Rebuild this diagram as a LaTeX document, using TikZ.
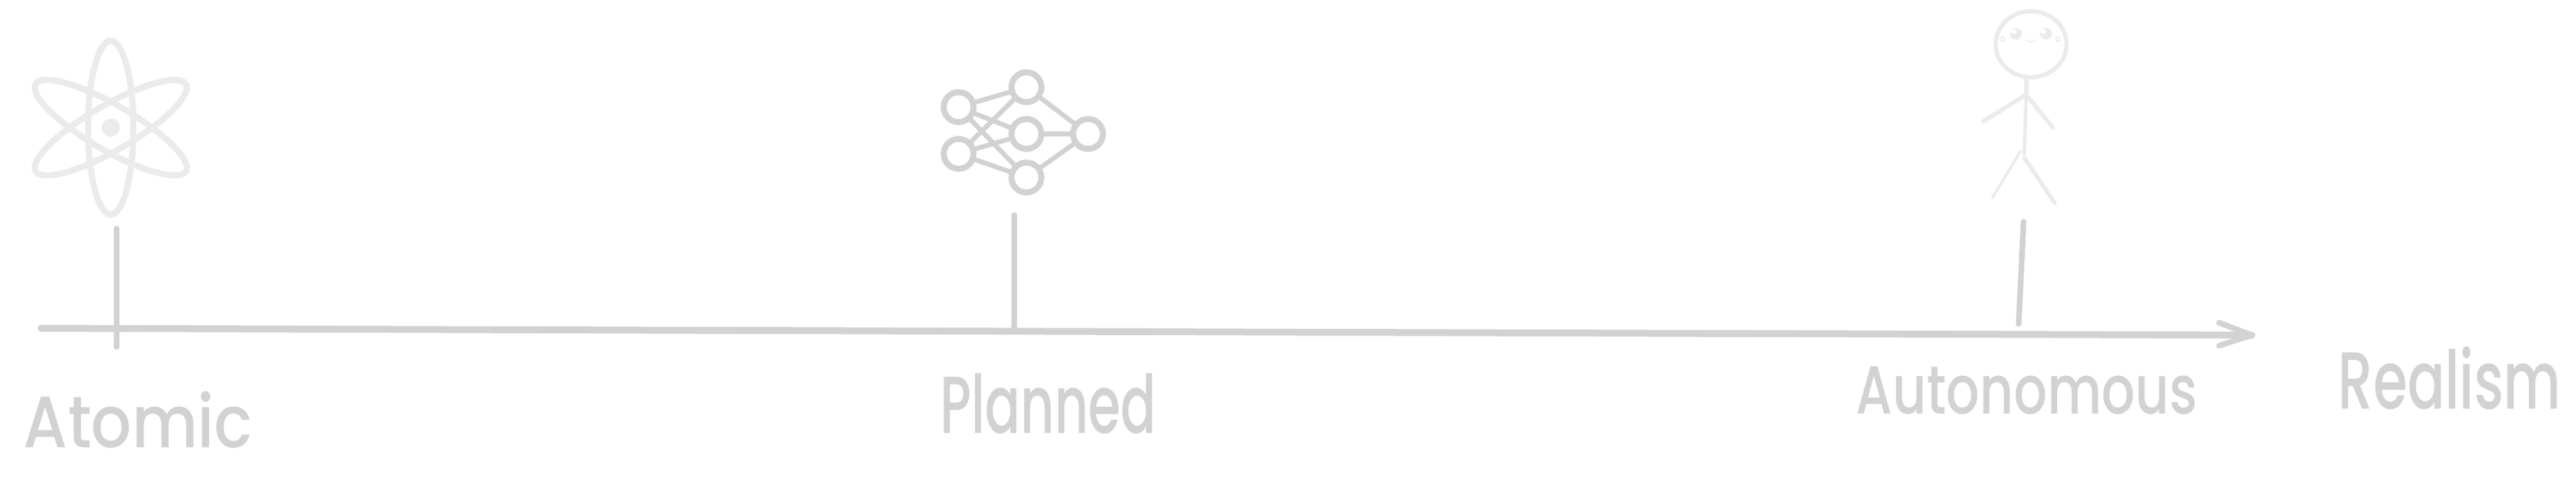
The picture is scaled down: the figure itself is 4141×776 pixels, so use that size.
\documentclass[tikz,border=0pt]{standalone}
\usepackage{fontspec}
\usepackage{graphicx}
\setmainfont{Poppins Medium}
\definecolor{ink}{HTML}{D2D2D2}
\definecolor{faint}{HTML}{EBEBEB}
\tikzset{
  axisline/.style={draw=ink,line width=5.5pt,line cap=round,line join=round},
  tickline/.style={draw=ink,line width=4.5pt,line cap=round},
  netnode/.style={circle,draw=ink,line width=4.8pt,minimum size=24pt,inner sep=0pt,outer sep=0pt},
  netedge/.style={draw=ink,line width=3.8pt},
  atomline/.style={draw=faint,line width=5pt},
  figline/.style={draw=faint,line width=3.4pt,line cap=round},
  lab/.style={text=ink,inner sep=0pt,outer sep=0pt,anchor=center}
}
\begin{document}
\begin{tikzpicture}[x=0.5pt,y=-0.5pt]
\useasboundingbox (0,0) rectangle (4141,776);
% axis
\coordinate (axL) at (66,527);
\coordinate (axR) at (3620,538);
\coordinate (bU) at (3567,518);
\coordinate (bD) at (3567,555);
\draw[axisline] (axL) -- (axR);
\draw[draw=ink,line width=4.5pt,line cap=round,line join=round] (bU) -- (axR) -- (bD);
% ticks
\coordinate (t1a) at (187,367); \coordinate (t1b) at (187,557);
\coordinate (t2a) at (1630,345); \coordinate (t2b) at (1630,530);
\coordinate (t3a) at (3253,356); \coordinate (t3b) at (3245,520);
\draw[tickline] (t1a) -- (t1b);
\draw[tickline] (t2a) -- (t2b);
\draw[tickline] (t3a) -- (t3b);
% atom
\foreach \a in {90,30,-30}
  \draw[atomline,rotate around={\a:(178,205)}] (178,205) ellipse (139.5 and 36.5);
\fill[faint] (178,205) circle (14.5);
% network
\node[netnode] (n1) at (1541,172) {};
\node[netnode] (n2) at (1541,247) {};
\node[netnode] (m1) at (1650,140) {};
\node[netnode] (m2) at (1650,215) {};
\node[netnode] (m3) at (1650,285) {};
\node[netnode] (o)  at (1749,215) {};
\foreach \s in {n1,n2} \foreach \d in {m1,m2,m3} \draw[netedge] (\s) -- (\d);
\foreach \s in {m1,m2,m3} \draw[netedge] (\s) -- (o);
% figure
\draw[figline] (3265,71) ellipse (57 and 53);
\fill[faint] (3240.5,54) circle (9.5);
\fill[faint] (3289,54) circle (9.5);
\fill[white] (3233,47) rectangle (3241,54);
\fill[white] (3281,47) rectangle (3289,54);
\draw[draw=faint,line width=1pt] (3219,63) circle (3.5);
\draw[draw=faint,line width=1pt] (3308,63) circle (3.5);
\draw[draw=faint,line width=.7pt] (3256,63) .. controls (3261,69) and (3269,69) .. (3274,63);
\coordinate (neck) at (3258,126);
\coordinate (chest) at (3257,152);
\coordinate (hip) at (3254,249);
\draw[draw=faint,line width=3.6pt] (neck) -- (chest);
\draw[draw=faint,line width=2.8pt] (chest) -- (hip);
\coordinate (handL) at (3188,195);
\coordinate (handR) at (3300,205);
\coordinate (legLa) at (3248,243);
\coordinate (legLb) at (3203,317);
\coordinate (legRa) at (3254,253);
\coordinate (legRb) at (3303,326);
\draw[figline] (chest) -- (handL);
\draw[figline] (chest) -- (handR);
\draw[figline,line width=2.2pt] (legLa) -- (legLb);
\draw[figline] (legRa) -- (legRb);
% labels
\node[lab] (atomic) at (222,674) {\resizebox{184pt}{45pt}{Atomic}};
\node[lab] (planned) at (1685,648) {\resizebox{174pt}{48pt}{Planned}};
\node[lab] (autonomous) at (3258,627) {\resizebox{274pt}{38pt}{Autonomous}};
\node[lab] (realism) at (3938,607) {\resizebox{179pt}{50pt}{Realism}};
\end{tikzpicture}
\end{document}
